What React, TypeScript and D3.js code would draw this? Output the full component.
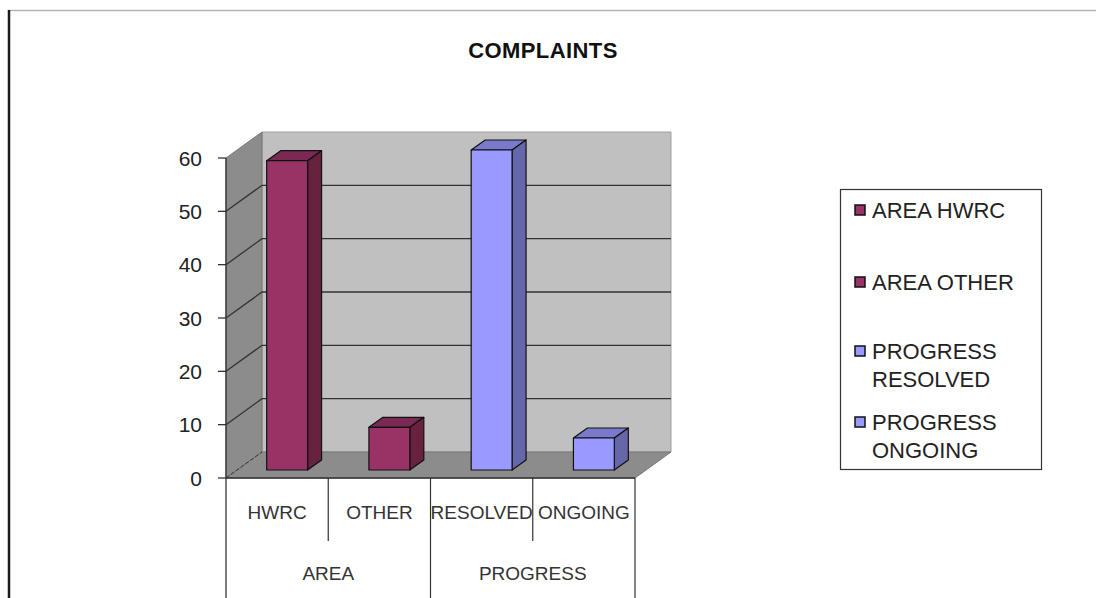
import React from "react";
import * as d3 from "d3";

const title = "COMPLAINTS";
const categories = ["HWRC", "OTHER", "RESOLVED", "ONGOING"];
const groups = ["AREA", "PROGRESS"];
const values = [58, 8, 60, 6];
const barColors = ["#993366", "#993366", "#9999ff", "#9999ff"];
const sideColors = ["#66223f", "#66223f", "#6666aa", "#6666aa"];
const topColors = ["#7a2952", "#7a2952", "#7a7acc", "#7a7acc"];
const yTicks = [0, 10, 20, 30, 40, 50, 60];
const legendLines = [["AREA HWRC"], ["AREA OTHER"], ["PROGRESS", "RESOLVED"], ["PROGRESS", "ONGOING"]];
const legendColors = ["#993366", "#993366", "#9999ff", "#9999ff"];

const font = "'Liberation Sans', Arial, sans-serif";
const left = 226;
const right = 635;
const y0 = 478;
const y60 = 158;
// depth of the 3d box
const dx = 36;
const dy = -26;
// bars sit a bit inside the box
const barShiftX = 10;
const barShiftY = -8;
const barDx = 14;
const barDy = -10;

const poly = (pts: number[][]) => pts.map((p) => p.join(",")).join(" ");

export default function App() {
  const x = d3.scaleBand<string>().domain(categories).range([left, right]);
  const y = d3.scaleLinear().domain([0, 60]).range([y0, y60]);
  const gx = d3.scaleBand<string>().domain(groups).range([left, right]);
  const barW = x.bandwidth() * 0.4;
  const stroke = "#222";
  const top = y(60);

  return (
    <svg
      width={1096}
      height={598}
      style={{ position: "absolute", left: 0, top: 0, background: "#fff" }}
      fontFamily={font}
    >
      {/* page edge */}
      <line x1={8} x2={1096} y1={10.5} y2={10.5} stroke="#b4b4b4" strokeWidth={1.5} />
      <line x1={9} x2={9} y1={10} y2={598} stroke="#1a1a1a" strokeWidth={2.5} />

      <text x={543} y={58} textAnchor="middle" fontSize={22} fontWeight="bold" fill="#111" letterSpacing={0.4}>
        {title}
      </text>

      {/* walls */}
      <polygon
        points={poly([[left + dx, y0 + dy], [right + dx, y0 + dy], [right + dx, top + dy], [left + dx, top + dy]])}
        fill="#c0c0c0"
        stroke="#a0a0a0"
      />
      <polygon
        points={poly([[left, y0], [left + dx, y0 + dy], [left + dx, top + dy], [left, top]])}
        fill="#8c8c8c"
        stroke="#777"
      />
      <polygon
        points={poly([[left, y0], [right, y0], [right + dx, y0 + dy], [left + dx, y0 + dy]])}
        fill="#8c8c8c"
        stroke="#777"
      />

      {/* gridlines */}
      {yTicks.slice(1, -1).map((t) => (
        <polyline
          key={t}
          points={poly([[left, y(t)], [left + dx, y(t) + dy], [right + dx, y(t) + dy]])}
          fill="none"
          stroke="#333"
          strokeWidth={1.3}
        />
      ))}
      <line x1={left} y1={y0} x2={left + dx} y2={y0 + dy} stroke="#333" strokeWidth={1} strokeDasharray="4 2" />

      {/* y axis */}
      <line x1={left} x2={left} y1={y60} y2={598} stroke="#333" strokeWidth={1.3} />
      <line x1={left} x2={right} y1={y0} y2={y0} stroke="#333" strokeWidth={1.5} />
      {yTicks.map((t) => (
        <g key={t}>
          <line x1={left - 8} x2={left} y1={y(t)} y2={y(t)} stroke="#333" strokeWidth={1.3} />
          <text x={202} y={y(t) + 7.5} textAnchor="end" fontSize={21} fill="#222">
            {t}
          </text>
        </g>
      ))}

      {/* bars */}
      {categories.map((c, i) => {
        const xa = (x(c) as number) + (x.bandwidth() - barW) / 2 + barShiftX;
        const xb = xa + barW;
        const base = y0 + barShiftY;
        const yt = base - (y(0) - y(values[i]));
        return (
          <g key={c} stroke="#111" strokeWidth={1.2} strokeLinejoin="round">
            <polygon points={poly([[xa, yt], [xb, yt], [xb + barDx, yt + barDy], [xa + barDx, yt + barDy]])} fill={topColors[i]} />
            <polygon points={poly([[xb, yt], [xb + barDx, yt + barDy], [xb + barDx, base + barDy], [xb, base]])} fill={sideColors[i]} />
            <rect x={xa} y={yt} width={barW} height={base - yt} fill={barColors[i]} />
          </g>
        );
      })}

      {/* category axis */}
      {categories.map((c) => (
        <text
          key={c}
          x={(x(c) as number) + x.bandwidth() / 2}
          y={519}
          textAnchor="middle"
          fontSize={19}
          fill="#333"
        >
          {c}
        </text>
      ))}
      {[categories[1], categories[3]].map((c) => (
        <line key={c} x1={x(c)} x2={x(c)} y1={y0} y2={541} stroke="#333" strokeWidth={1.2} />
      ))}
      {[...groups.slice(1).map((g) => gx(g) as number), right].map((v) => (
        <line key={v} x1={v} x2={v} y1={y0} y2={598} stroke="#333" strokeWidth={1.2} />
      ))}
      {groups.map((g) => (
        <text
          key={g}
          x={(gx(g) as number) + gx.bandwidth() / 2}
          y={580}
          textAnchor="middle"
          fontSize={19}
          fill="#333"
        >
          {g}
        </text>
      ))}

      {/* legend */}
      <rect x={840.5} y={189.5} width={201} height={280} fill="#fff" stroke="#333" strokeWidth={1.2} />
      {legendLines.map((lines, i) => {
        const ly = [218, 290, 359, 430][i];
        return (
          <g key={i}>
            <rect x={855} y={ly - 13} width={10} height={10} fill={legendColors[i]} stroke="#111" strokeWidth={1.5} />
            {lines.map((t, j) => (
              <text key={t} x={872} y={ly + j * 28} fontSize={22} fill="#222">
                {t}
              </text>
            ))}
          </g>
        );
      })}
    </svg>
  );
}
